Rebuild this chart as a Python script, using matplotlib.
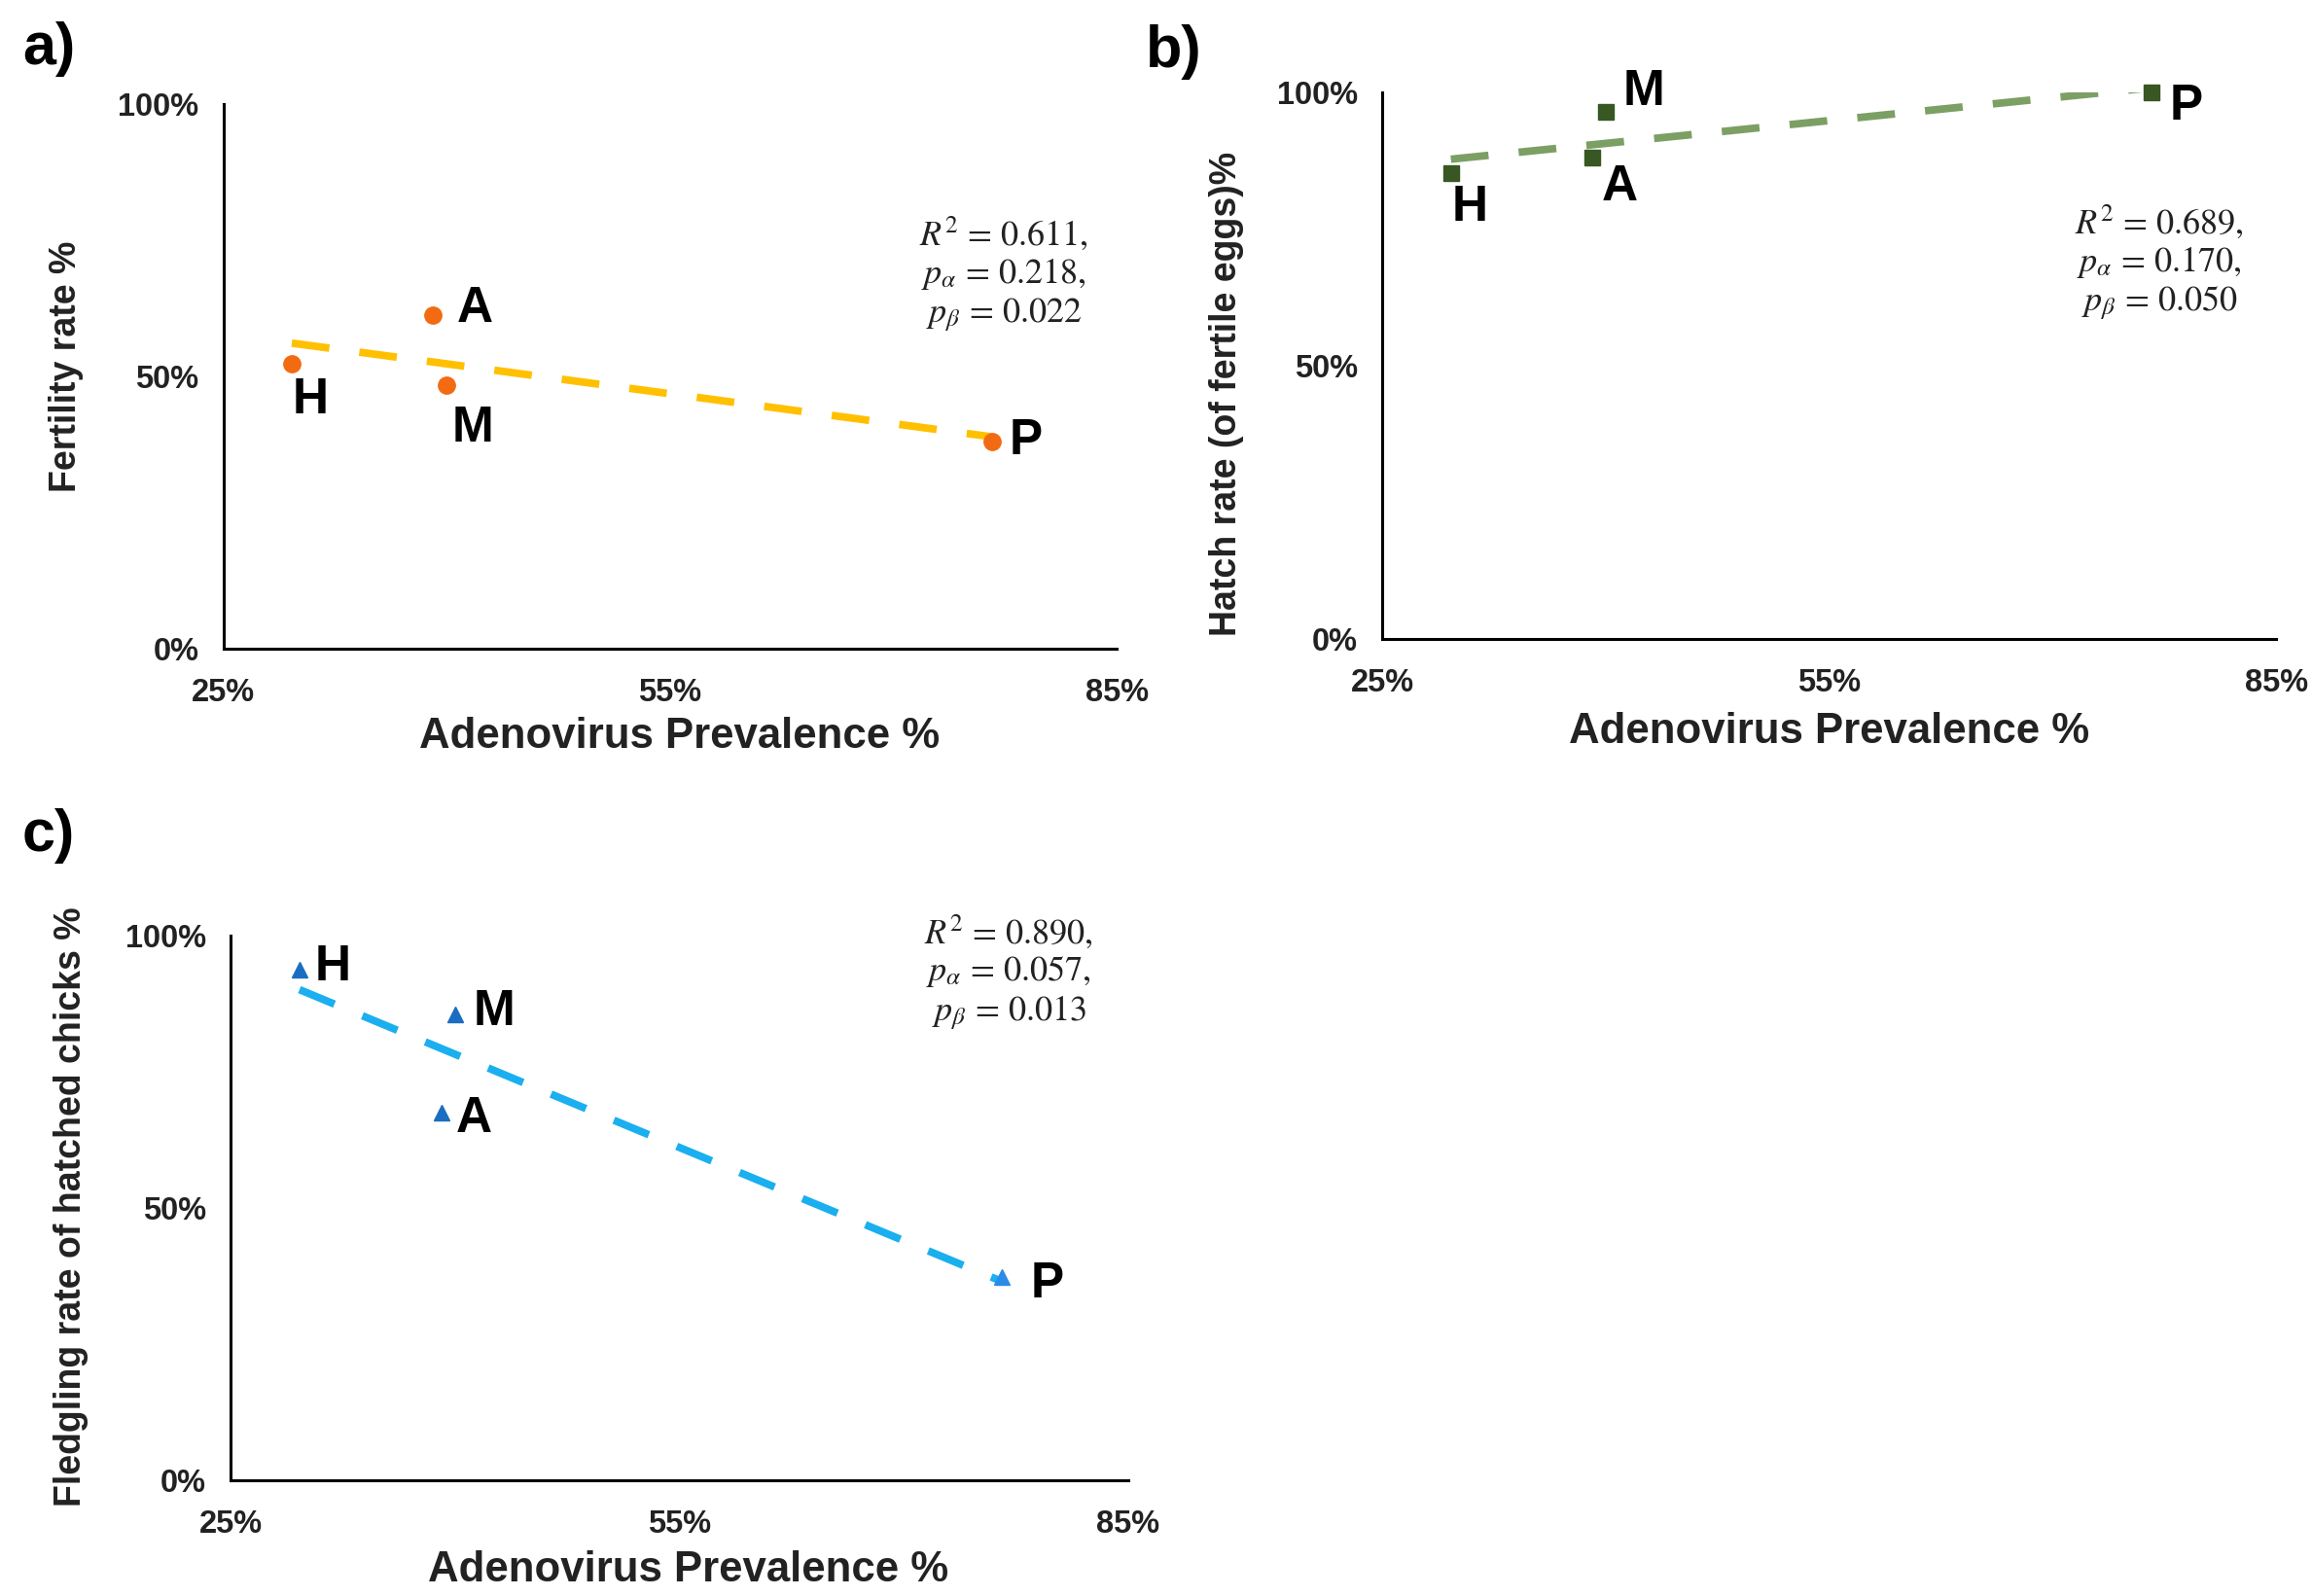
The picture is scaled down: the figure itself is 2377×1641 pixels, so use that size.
import numpy as np
import matplotlib
matplotlib.use("Agg")
import matplotlib.pyplot as plt
from matplotlib.ticker import FuncFormatter

plt.rcParams['font.family'] = ['Liberation Sans', 'DejaVu Sans']
plt.rcParams['mathtext.fontset'] = 'stix'

# ---- data ----
sites = ["H", "A", "M", "P"]
prevalence = [29.6, 39.1, 40.0, 76.6]            # Adenovirus prevalence %
fertility = [52.3, 61.2, 48.3, 38.0]             # panel a
hatch = [85.1, 88.1, 96.3, 100.0]                # panel b
fledging = [93.8, 67.5, 85.5, 37.2]              # panel c
x_ticks = [25, 55, 85]
y_ticks = [0, 50, 100]
stats_a = [r"$R^2$ = 0.611,", r"$p_\alpha$ = 0.218,", r"$p_\beta$ = 0.022"]
stats_b = [r"$R^2$ = 0.689,", r"$p_\alpha$ = 0.170,", r"$p_\beta$ = 0.050"]
stats_c = [r"$R^2$ = 0.890,", r"$p_\alpha$ = 0.057,", r"$p_\beta$ = 0.013"]

fig = plt.figure(figsize=(23.77, 16.41), dpi=100)

pct = FuncFormatter(lambda v, p: f"{v:.0f}%")


def setup(ax, ylabel, xlab_pos, ylab_pos):
    ax.set_xlim(25, 85)
    ax.set_ylim(0, 100)
    ax.set_xticks(x_ticks)
    ax.set_yticks(y_ticks)
    ax.xaxis.set_major_formatter(pct)
    ax.yaxis.set_major_formatter(pct)
    for s in ["top", "right"]:
        ax.spines[s].set_visible(False)
    for s in ["left", "bottom"]:
        ax.spines[s].set_linewidth(2.2)
        ax.spines[s].set_color("black")
    ax.tick_params(axis="both", length=0, labelsize=23.5)
    ax.tick_params(axis="x", pad=22)
    ax.tick_params(axis="y", pad=18)
    for lab in ax.get_xticklabels() + ax.get_yticklabels():
        lab.set_fontweight("bold")
        lab.set_color("#222222")
    ax.set_xlabel("Adenovirus Prevalence %", fontsize=31.5, fontweight="bold",
                  va="center", color="#222222")
    ax.set_ylabel(ylabel, fontsize=27, fontweight="bold", va="center",
                  color="#222222")
    ax.xaxis.set_label_coords(*xlab_pos)
    ax.yaxis.set_label_coords(*ylab_pos)


def trend(ax, x, y, color):
    x = np.array(x)
    y = np.array(y)
    k, b = np.polyfit(x, y, 1)
    xs = np.array([x.min(), x.max()])
    ys = k * xs + b
    ln, = ax.plot(xs, ys, color=color, lw=5.6, zorder=2, clip_on=True)
    ln.set_dashes((5.0, 4.0))
    ln.set_dash_capstyle("butt")


def labels(ax, x, y, offsets):
    for s, xi, yi in zip(sites, x, y):
        ox, oy = offsets[s]
        ax.annotate(s, (xi, yi), xytext=(ox, oy), textcoords="offset points",
                    ha="center", va="center", fontsize=37, fontweight="bold",
                    color="black", annotation_clip=False)


def stats(x, y, lines):
    fig.text(x, y, "\n".join(lines), ha="center", va="center",
             multialignment="center", fontsize=26, color="#222222",
             linespacing=1.12, family="STIXGeneral")


# ---- panel a ----
axa = fig.add_axes([0.0966, 0.5938, 0.3864, 0.3410])
setup(axa, "Fertility rate %", (0.511, -0.163), (-0.176, 0.517))
trend(axa, prevalence, fertility, "#FFC000")
axa.plot(prevalence, fertility, "o", color="#F26B12", ms=12.5, zorder=3,
         clip_on=False)
labels(axa, prevalence, fertility,
       {"H": (14, -27), "A": (31, 5), "M": (19, -32), "P": (25, 0)})
stats(1032 / 2377, 1 - 282 / 1641, stats_a)

# ---- panel b ----
axb = fig.add_axes([0.5979, 0.5999, 0.3867, 0.3424])
setup(axb, "Hatch rate (of fertile eggs)%", (0.500, -0.171), (-0.174, 0.447))
trend(axb, prevalence, hatch, "#7C9F64")
axb.plot(prevalence, hatch, "s", color="#385723", ms=11, zorder=3,
         clip_on=False)
labels(axb, prevalence, hatch,
       {"H": (14, -25), "A": (20, -22), "M": (28, 15), "P": (26, -11)})
stats(2220 / 2377, 1 - 270 / 1641, stats_b)

# ---- panel c ----
axc = fig.add_axes([0.0998, 0.0728, 0.3880, 0.3409])
setup(axc, "Fledgling rate of hatched chicks %", (0.5105, -0.166),
      (-0.178, 0.502))
trend(axc, prevalence, fledging, "#1AAFEF")
c_colors = ["#1A6DC0", "#1A6DC0", "#1A6DC0", "#2A8CE8"]
for xi, yi, cc in zip(prevalence, fledging, c_colors):
    axc.plot([xi], [yi], "^", color=cc, ms=11, zorder=3, clip_on=False)
labels(axc, prevalence, fledging,
       {"H": (25, 2), "A": (24, -5), "M": (29, 2), "P": (33, -5)})
stats(1037 / 2377, 1 - 1000 / 1641, stats_c)

# ---- panel letters ----
for letter, (fx, fy) in zip(["a)", "b)", "c)"],
                            [(0.021, 0.9695), (0.5078, 0.9677), (0.021, 0.476)]):
    fig.text(fx, fy, letter, ha="center", va="center", fontsize=44,
             fontweight="bold", color="black")

fig.savefig("out.png", dpi=100, facecolor="white")
